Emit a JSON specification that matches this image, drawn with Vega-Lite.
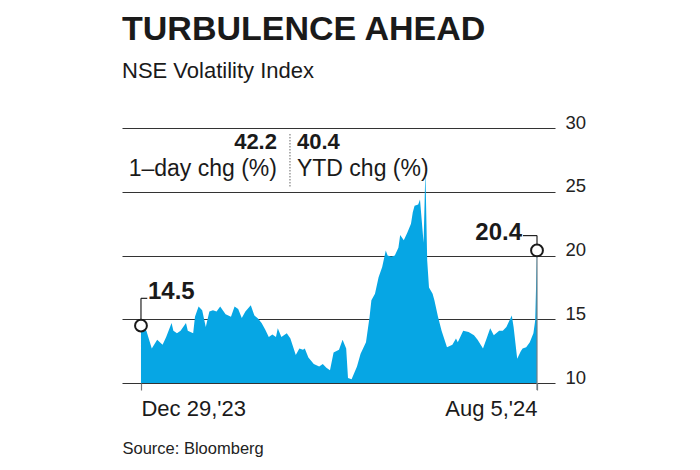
{
  "$schema": "https://vega.github.io/schema/vega-lite/v6.json",
  "width": 433,
  "height": 255,
  "autosize": {"type": "none"},
  "padding": {"left": 122, "top": 128, "right": 145, "bottom": 87},
  "background": "white",
  "config": {"view": {"stroke": null}, "font": "Liberation Sans"},
  "title": {
    "text": "TURBULENCE AHEAD",
    "subtitle": "NSE Volatility Index",
    "anchor": "start",
    "frame": "group",
    "orient": "top",
    "font": "Liberation Sans",
    "fontSize": 34,
    "fontWeight": "bold",
    "color": "#1a1a1a",
    "subtitleFont": "Liberation Sans",
    "subtitleFontSize": 22,
    "subtitleColor": "#1a1a1a",
    "subtitlePadding": 14,
    "offset": 31
  },
  "data": {
    "format": {"parse": {"date": "date"}},
    "values": [
      {"date": "2023-12-29", "vix": 14.5},
      {"date": "2024-01-01", "vix": 14.1},
      {"date": "2024-01-04", "vix": 12.7},
      {"date": "2024-01-07", "vix": 13.4},
      {"date": "2024-01-10", "vix": 13.0},
      {"date": "2024-01-12", "vix": 13.6},
      {"date": "2024-01-15", "vix": 14.7},
      {"date": "2024-01-16", "vix": 14.1},
      {"date": "2024-01-18", "vix": 13.9},
      {"date": "2024-01-20", "vix": 14.1},
      {"date": "2024-01-23", "vix": 14.7},
      {"date": "2024-01-24", "vix": 14.1},
      {"date": "2024-01-27", "vix": 13.9},
      {"date": "2024-01-28", "vix": 15.2},
      {"date": "2024-01-30", "vix": 16.0},
      {"date": "2024-02-01", "vix": 15.7},
      {"date": "2024-02-03", "vix": 14.4},
      {"date": "2024-02-05", "vix": 15.6},
      {"date": "2024-02-07", "vix": 15.7},
      {"date": "2024-02-09", "vix": 15.6},
      {"date": "2024-02-11", "vix": 16.0},
      {"date": "2024-02-14", "vix": 15.4},
      {"date": "2024-02-17", "vix": 15.2},
      {"date": "2024-02-19", "vix": 16.0},
      {"date": "2024-02-21", "vix": 15.8},
      {"date": "2024-02-23", "vix": 15.1},
      {"date": "2024-02-25", "vix": 15.6},
      {"date": "2024-02-28", "vix": 16.1},
      {"date": "2024-03-01", "vix": 15.3},
      {"date": "2024-03-03", "vix": 15.05},
      {"date": "2024-03-05", "vix": 14.7},
      {"date": "2024-03-07", "vix": 14.2},
      {"date": "2024-03-09", "vix": 13.6},
      {"date": "2024-03-11", "vix": 13.8},
      {"date": "2024-03-13", "vix": 13.6},
      {"date": "2024-03-14", "vix": 14.3},
      {"date": "2024-03-16", "vix": 13.6},
      {"date": "2024-03-19", "vix": 13.9},
      {"date": "2024-03-21", "vix": 13.5},
      {"date": "2024-03-24", "vix": 12.2},
      {"date": "2024-03-26", "vix": 12.7},
      {"date": "2024-03-28", "vix": 12.6},
      {"date": "2024-03-29", "vix": 12.7},
      {"date": "2024-03-31", "vix": 12.0},
      {"date": "2024-04-03", "vix": 11.5},
      {"date": "2024-04-06", "vix": 11.3},
      {"date": "2024-04-08", "vix": 11.5},
      {"date": "2024-04-10", "vix": 11.2},
      {"date": "2024-04-12", "vix": 11.0},
      {"date": "2024-04-14", "vix": 12.4},
      {"date": "2024-04-17", "vix": 12.6},
      {"date": "2024-04-19", "vix": 13.4},
      {"date": "2024-04-21", "vix": 12.7},
      {"date": "2024-04-22", "vix": 10.4},
      {"date": "2024-04-24", "vix": 10.3},
      {"date": "2024-04-27", "vix": 11.3},
      {"date": "2024-04-29", "vix": 12.3},
      {"date": "2024-05-02", "vix": 13.2},
      {"date": "2024-05-04", "vix": 15.2},
      {"date": "2024-05-05", "vix": 16.5},
      {"date": "2024-05-07", "vix": 17.0},
      {"date": "2024-05-09", "vix": 18.3},
      {"date": "2024-05-11", "vix": 19.1},
      {"date": "2024-05-13", "vix": 20.4},
      {"date": "2024-05-14", "vix": 20.0},
      {"date": "2024-05-16", "vix": 19.9},
      {"date": "2024-05-18", "vix": 20.0},
      {"date": "2024-05-20", "vix": 20.6},
      {"date": "2024-05-21", "vix": 21.6},
      {"date": "2024-05-23", "vix": 21.2},
      {"date": "2024-05-25", "vix": 21.8},
      {"date": "2024-05-27", "vix": 22.5},
      {"date": "2024-05-28", "vix": 23.4},
      {"date": "2024-05-29", "vix": 23.9},
      {"date": "2024-05-31", "vix": 24.0},
      {"date": "2024-06-01", "vix": 24.4},
      {"date": "2024-06-03", "vix": 21.0},
      {"date": "2024-06-04", "vix": 26.7},
      {"date": "2024-06-05", "vix": 19.6},
      {"date": "2024-06-06", "vix": 17.5},
      {"date": "2024-06-08", "vix": 17.0},
      {"date": "2024-06-09", "vix": 16.5},
      {"date": "2024-06-11", "vix": 15.2},
      {"date": "2024-06-13", "vix": 14.1},
      {"date": "2024-06-16", "vix": 12.8},
      {"date": "2024-06-19", "vix": 13.0},
      {"date": "2024-06-21", "vix": 13.5},
      {"date": "2024-06-22", "vix": 13.2},
      {"date": "2024-06-25", "vix": 14.1},
      {"date": "2024-06-28", "vix": 14.0},
      {"date": "2024-07-01", "vix": 13.75},
      {"date": "2024-07-03", "vix": 13.4},
      {"date": "2024-07-06", "vix": 12.7},
      {"date": "2024-07-08", "vix": 13.5},
      {"date": "2024-07-10", "vix": 14.3},
      {"date": "2024-07-12", "vix": 13.75},
      {"date": "2024-07-15", "vix": 14.1},
      {"date": "2024-07-17", "vix": 14.1},
      {"date": "2024-07-19", "vix": 14.4},
      {"date": "2024-07-22", "vix": 15.3},
      {"date": "2024-07-23", "vix": 14.4},
      {"date": "2024-07-25", "vix": 11.9},
      {"date": "2024-07-27", "vix": 12.5},
      {"date": "2024-07-28", "vix": 12.7},
      {"date": "2024-07-30", "vix": 12.8},
      {"date": "2024-08-01", "vix": 13.2},
      {"date": "2024-08-03", "vix": 13.9},
      {"date": "2024-08-04", "vix": 14.9},
      {"date": "2024-08-05", "vix": 20.4}
    ]
  },
  "encoding": {
    "x": {
      "field": "date",
      "type": "temporal",
      "scale": {
        "type": "utc",
        "domain": [
          {"year": 2023, "month": 12, "date": 18, "hours": 11, "utc": true},
          {"year": 2024, "month": 8, "date": 15, "utc": true}
        ]
      },
      "axis": {
        "orient": "bottom",
        "values": [
          {"year": 2023, "month": 12, "date": 29, "utc": true},
          {"year": 2024, "month": 8, "date": 5, "utc": true}
        ],
        "labelExpr": "utcFormat(datum.value, \"%b %-d,'%y\")",
        "domain": false,
        "grid": false,
        "ticks": true,
        "tickSize": 7,
        "tickColor": "#777777",
        "tickWidth": 1.2,
        "labelFont": "Liberation Sans",
        "labelFontSize": 22,
        "labelColor": "#1a1a1a",
        "labelBaseline": "top",
        "labelPadding": 8,
        "labelAlign": {"condition": {"test": "utcmonth(datum.value) == 11", "value": "left"}, "value": "right"},
        "labelOffset": 0,
        "title": "Source: Bloomberg",
        "titleFont": "Liberation Sans",
        "titleFontSize": 16.5,
        "titleFontWeight": "normal",
        "titleColor": "#222222",
        "titleAlign": "left",
        "titleAnchor": "start",
        "titleBaseline": "alphabetic",
        "titleX": 0,
        "titleY": 70
      }
    },
    "y": {
      "field": "vix",
      "type": "quantitative",
      "scale": {"domain": [10, 30], "zero": false, "nice": false},
      "axis": {
        "orient": "right",
        "values": [10, 15, 20, 25, 30],
        "domain": false,
        "ticks": false,
        "grid": true,
        "gridColor": "#333333",
        "gridWidth": 1.1,
        "labelPadding": 10,
        "labelFont": "Liberation Sans",
        "labelFontSize": 18.5,
        "labelColor": "#222222",
        "labelBaseline": "alphabetic",
        "labelAlign": "left",
        "title": null
      }
    }
  },
  "layer": [
    {
      "mark": {"type": "area", "color": "#06a6e4", "interpolate": "linear"},
      "encoding": {"y2": {"datum": 10}}
    },
    {
      "transform": [
        {"joinaggregate": [{"op": "max", "field": "date", "as": "d1"}]},
        {"filter": "time(datum.date) == time(datum.d1)"}
      ],
      "mark": {"type": "rule", "color": "#6f7f86", "strokeWidth": 1.2},
      "encoding": {"y2": {"datum": 9.45}}
    },
    {
      "transform": [
        {"joinaggregate": [{"op": "max", "field": "date", "as": "d1"}]},
        {"filter": "time(datum.date) == time(datum.d1)"}
      ],
      "mark": {"type": "rule", "color": "#222222", "strokeWidth": 1.2},
      "encoding": {"y2": {"datum": 21.56}}
    },
    {
      "transform": [
        {"joinaggregate": [{"op": "max", "field": "date", "as": "d1"}]},
        {"filter": "time(datum.date) == time(datum.d1)"}
      ],
      "mark": {"type": "rule", "color": "#222222", "strokeWidth": 1.2},
      "encoding": {
        "y": {"datum": 21.56},
        "x2": {"datum": {"year": 2024, "month": 7, "date": 28, "hours": 5, "utc": true}}
      }
    },
    {
      "transform": [
        {"joinaggregate": [{"op": "min", "field": "date", "as": "d0"}]},
        {"filter": "time(datum.date) == time(datum.d0)"}
      ],
      "mark": {"type": "rule", "color": "#222222", "strokeWidth": 1.2},
      "encoding": {"y2": {"datum": 16.64}}
    },
    {
      "transform": [
        {"joinaggregate": [{"op": "min", "field": "date", "as": "d0"}]},
        {"filter": "time(datum.date) == time(datum.d0)"}
      ],
      "mark": {"type": "rule", "color": "#222222", "strokeWidth": 1.2},
      "encoding": {
        "y": {"datum": 16.64},
        "x2": {"datum": {"year": 2024, "month": 1, "date": 1, "hours": 12, "utc": true}}
      }
    },
    {
      "transform": [
        {"joinaggregate": [{"op": "min", "field": "date", "as": "d0"}, {"op": "max", "field": "date", "as": "d1"}]},
        {"filter": "time(datum.date) == time(datum.d0) || time(datum.date) == time(datum.d1)"}
      ],
      "mark": {"type": "point", "shape": "circle", "filled": true, "fill": "white", "stroke": "#1a1a1a", "strokeWidth": 2, "size": 140, "opacity": 1}
    },
    {
      "transform": [
        {"joinaggregate": [{"op": "min", "field": "date", "as": "d0"}]},
        {"filter": "time(datum.date) == time(datum.d0)"}
      ],
      "mark": {"type": "text", "align": "left", "baseline": "alphabetic", "dx": 7, "dy": -27, "font": "Liberation Sans", "fontSize": 24, "fontWeight": "bold", "color": "#1a1a1a"},
      "encoding": {"text": {"field": "vix", "type": "quantitative", "format": ".1f"}}
    },
    {
      "transform": [
        {"joinaggregate": [{"op": "max", "field": "date", "as": "d1"}]},
        {"filter": "time(datum.date) == time(datum.d1)"}
      ],
      "mark": {"type": "text", "align": "right", "baseline": "alphabetic", "dx": -15, "dy": -10, "font": "Liberation Sans", "fontSize": 24, "fontWeight": "bold", "color": "#1a1a1a"},
      "encoding": {"text": {"field": "vix", "type": "quantitative", "format": ".1f"}}
    },
    {
      "transform": [
        {"joinaggregate": [{"op": "min", "field": "date", "as": "d0"}]},
        {"filter": "time(datum.date) == time(datum.d0)"}
      ],
      "mark": {"type": "text", "align": "right", "baseline": "alphabetic", "dx": 136, "font": "Liberation Sans", "fontSize": 22, "fontWeight": "bold", "color": "#1a1a1a"},
      "encoding": {"y": {"datum": 28.36}, "text": {"value": "42.2"}}
    },
    {
      "transform": [
        {"joinaggregate": [{"op": "min", "field": "date", "as": "d0"}]},
        {"filter": "time(datum.date) == time(datum.d0)"}
      ],
      "mark": {"type": "text", "align": "right", "baseline": "alphabetic", "dx": 136, "font": "Liberation Sans", "fontSize": 23, "color": "#1a1a1a"},
      "encoding": {"y": {"datum": 26.25}, "text": {"value": "1–day chg (%)"}}
    },
    {
      "transform": [
        {"joinaggregate": [{"op": "min", "field": "date", "as": "d0"}]},
        {"filter": "time(datum.date) == time(datum.d0)"}
      ],
      "mark": {"type": "text", "align": "left", "baseline": "alphabetic", "dx": 156, "font": "Liberation Sans", "fontSize": 22, "fontWeight": "bold", "color": "#1a1a1a"},
      "encoding": {"y": {"datum": 28.36}, "text": {"value": "40.4"}}
    },
    {
      "transform": [
        {"joinaggregate": [{"op": "min", "field": "date", "as": "d0"}]},
        {"filter": "time(datum.date) == time(datum.d0)"}
      ],
      "mark": {"type": "text", "align": "left", "baseline": "alphabetic", "dx": 156, "font": "Liberation Sans", "fontSize": 23, "color": "#1a1a1a"},
      "encoding": {"y": {"datum": 26.25}, "text": {"value": "YTD chg (%)"}}
    },
    {
      "transform": [
        {"joinaggregate": [{"op": "min", "field": "date", "as": "d0"}]},
        {"filter": "time(datum.date) == time(datum.d0)"}
      ],
      "mark": {"type": "rule", "color": "#666666", "strokeWidth": 1, "strokeDash": [1.5, 1.5], "xOffset": 149},
      "encoding": {"y": {"datum": 29.53}, "y2": {"datum": 25.31}}
    }
  ]
}
